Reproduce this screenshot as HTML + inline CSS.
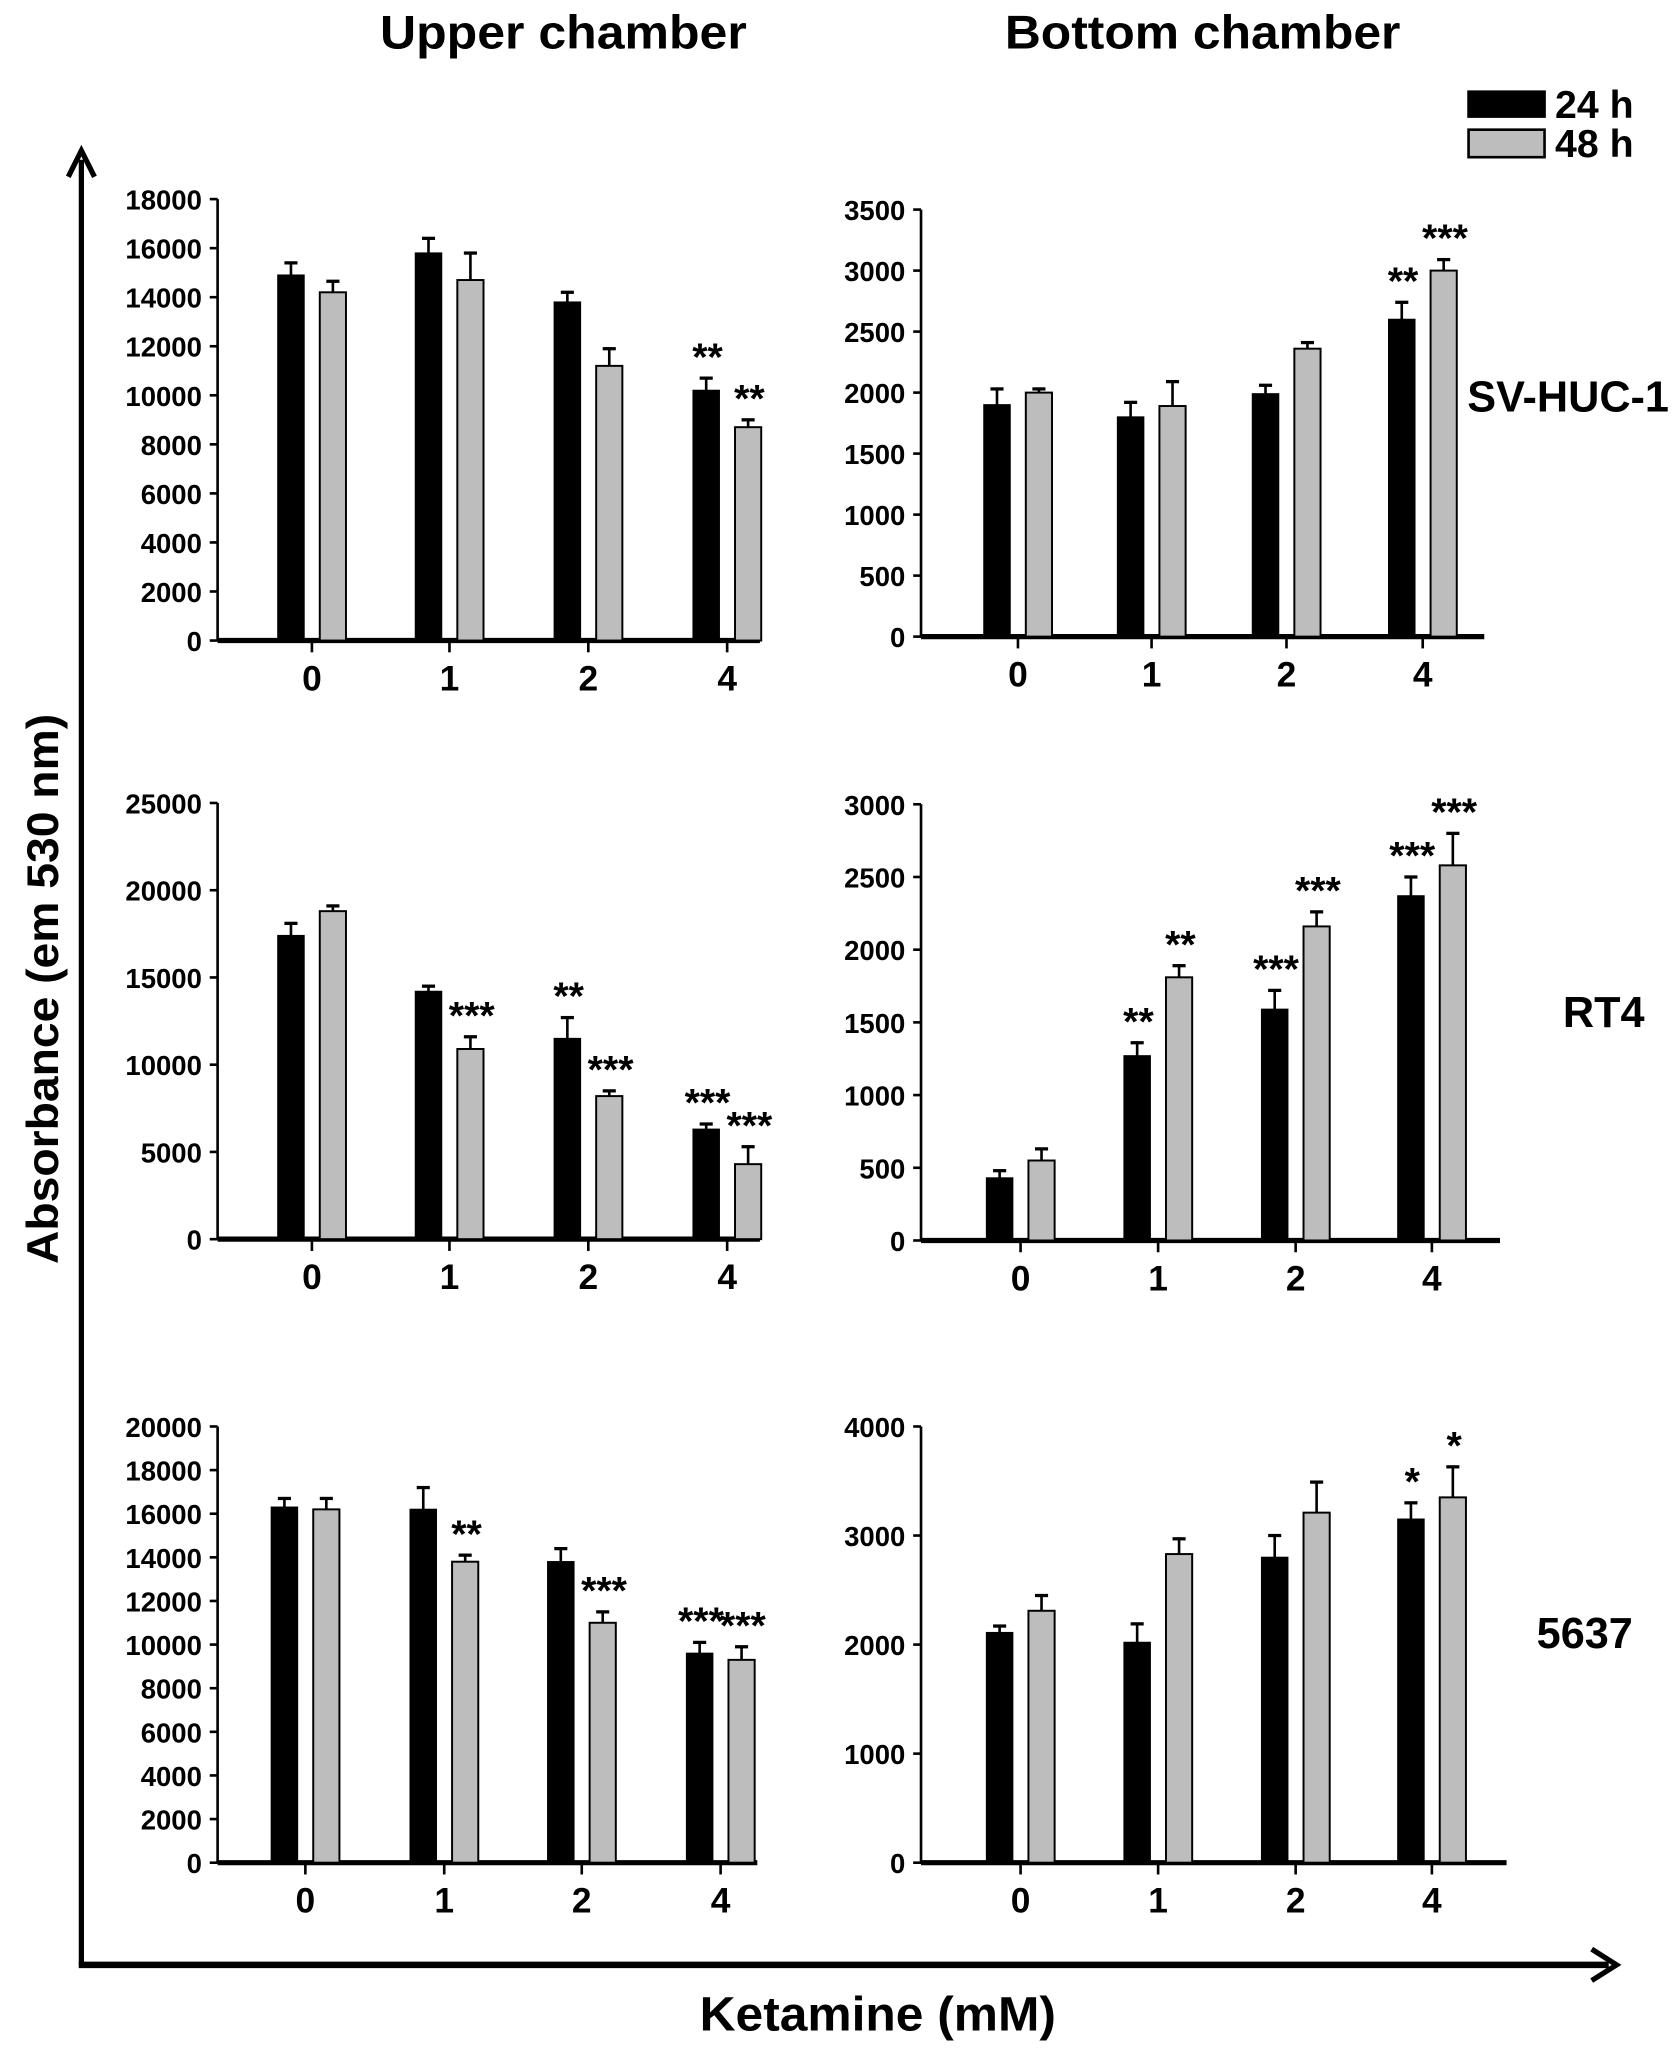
<!DOCTYPE html>
<html><head><meta charset="utf-8"><style>
html,body{margin:0;padding:0;background:#fff}
svg{display:block}
text{font-family:"Liberation Sans",Arial,sans-serif;font-weight:bold;fill:#000}
</style></head><body>
<svg id="fig" width="1677" height="2050" viewBox="0 0 1280 1565" xmlns="http://www.w3.org/2000/svg">
<text x="430" y="37" font-size="36" text-anchor="middle" textLength="280" lengthAdjust="spacingAndGlyphs">Upper chamber</text>
<text x="918" y="37" font-size="36" text-anchor="middle" textLength="302" lengthAdjust="spacingAndGlyphs">Bottom chamber</text>
<g>
<rect x="1120" y="69" width="60" height="21" fill="#000"/>
<text x="1187" y="90" font-size="30">24 h</text>
<rect x="1121" y="99" width="58" height="21" fill="#bdbdbd" stroke="#000" stroke-width="2"/>
<text x="1187" y="120" font-size="30">48 h</text>
</g>
<text x="1120" y="314" font-size="33">SV-HUC-1</text>
<text x="1193" y="784" font-size="33">RT4</text>
<text x="1173" y="1258" font-size="33">5637</text>
<g>
<line x1="62" y1="1500" x2="62" y2="122" stroke="#000" stroke-width="4"/>
<polyline points="52,135 62,115 72,135" fill="none" stroke="#000" stroke-width="4"/>
</g>
<g>
<line x1="60" y1="1500" x2="1228" y2="1500" stroke="#000" stroke-width="5"/>
<polyline points="1215,1488 1234,1500 1215,1512" fill="none" stroke="#000" stroke-width="4"/>
</g>
<text transform="translate(44,755) rotate(-90)" font-size="34" text-anchor="middle" textLength="420" lengthAdjust="spacingAndGlyphs">Absorbance (em 530 nm)</text>
<text x="670" y="1550" font-size="37" text-anchor="middle" textLength="272" lengthAdjust="spacingAndGlyphs">Ketamine (mM)</text>
<g id="panels"></g>
</svg>
<script>
const categories = ["0","1","2","4"];
// panel 1: SV-HUC-1 upper
const p1Black=[14900,15800,13800,10200], p1BlackErr=[500,600,400,500];
const p1Gray=[14200,14700,11200,8700], p1GrayErr=[450,1100,700,300];
const p1StarsB=["","","","**"], p1StarsG=["","","","**"];
const p1Ticks=[0,2000,4000,6000,8000,10000,12000,14000,16000,18000];
// panel 2: SV-HUC-1 bottom
const p2Black=[1900,1800,1990,2600], p2BlackErr=[130,120,70,140];
const p2Gray=[2000,1890,2360,3000], p2GrayErr=[30,200,50,90];
const p2StarsB=["","","","**"], p2StarsG=["","","","***"];
const p2Ticks=[0,500,1000,1500,2000,2500,3000,3500];
// panel 3: RT4 upper
const p3Black=[17400,14200,11500,6300], p3BlackErr=[700,300,1200,300];
const p3Gray=[18800,10900,8200,4300], p3GrayErr=[300,700,300,1000];
const p3StarsB=["","","**","***"], p3StarsG=["","***","***","***"];
const p3Ticks=[0,5000,10000,15000,20000,25000];
// panel 4: RT4 bottom
const p4Black=[430,1270,1590,2370], p4BlackErr=[50,90,130,130];
const p4Gray=[550,1810,2160,2580], p4GrayErr=[80,80,100,220];
const p4StarsB=["","**","***","***"], p4StarsG=["","**","***","***"];
const p4Ticks=[0,500,1000,1500,2000,2500,3000];
// panel 5: 5637 upper
const p5Black=[16300,16200,13800,9600], p5BlackErr=[400,1000,600,500];
const p5Gray=[16200,13800,11000,9300], p5GrayErr=[500,300,500,600];
const p5StarsB=["","","","***"], p5StarsG=["","**","***","***"];
const p5Ticks=[0,2000,4000,6000,8000,10000,12000,14000,16000,18000,20000];
// panel 6: 5637 bottom
const p6Black=[2110,2020,2800,3150], p6BlackErr=[60,170,200,150];
const p6Gray=[2310,2830,3210,3350], p6GrayErr=[140,140,280,280];
const p6StarsB=["","","","*"], p6StarsG=["","","","*"];
const p6Ticks=[0,1000,2000,3000,4000];

const NS="http://www.w3.org/2000/svg";
const root=document.getElementById('panels');
function mk(tag,attrs,parent){const e=document.createElementNS(NS,tag);for(const k in attrs)e.setAttribute(k,attrs[k]);parent.appendChild(e);return e;}

function panel(id,cfg,black,bErr,gray,gErr,sB,sG,ticks){
  const g=mk('g',{},root);
  
  
  const max=ticks[ticks.length-1];
  const y=v=>cfg.y0-(v/max)*(cfg.y0-cfg.yTop);
  const x=i=>cfg.cx[i];
  mk('line',{x1:cfg.ax,y1:cfg.yTop,x2:cfg.ax,y2:cfg.y0,stroke:'#000','stroke-width':2},g);
  mk('line',{x1:cfg.ax,y1:cfg.y0,x2:cfg.xEnd,y2:cfg.y0,stroke:'#000','stroke-width':4},g);
  ticks.forEach(t=>{
    mk('line',{x1:cfg.ax-6,y1:y(t),x2:cfg.ax,y2:y(t),stroke:'#000','stroke-width':2},g);
    const tx=mk('text',{x:cfg.ax-12,y:y(t)+8,'font-size':21,'text-anchor':'end'},g);
    tx.textContent=t;
    
    
  });
  categories.forEach((c,i)=>{
    mk('line',{x1:x(i),y1:cfg.y0,x2:x(i),y2:cfg.y0+9,stroke:'#000','stroke-width':2},g);
    const tx=mk('text',{x:x(i),y:cfg.y0+38,'font-size':27,'text-anchor':'middle'},g);
    tx.textContent=c;
    
    
    const bw=20;
    [[black,bErr,sB,-16,'#000'],[gray,gErr,sG,16,'#bdbdbd']].forEach(([vals,errs,st,off,fill],k)=>{
      const cx=x(i)+off, top=y(vals[i]), et=y(vals[i]+errs[i]);
      mk('line',{x1:cx,y1:top,x2:cx,y2:et,stroke:'#000','stroke-width':2},g);
      mk('line',{x1:cx-5,y1:et,x2:cx+5,y2:et,stroke:'#000','stroke-width':2.5},g);
      const r=mk('rect',{x:cx-bw/2,y:top,width:bw,height:cfg.y0-top,fill:fill,stroke:'#000','stroke-width':k?1.5:1},g);
      
      
      if(st[i]){
        const s=mk('text',{x:cx+1,y:et-6,'font-size':30,'text-anchor':'middle','font-weight':'normal'},g);
        s.textContent=st[i];
        
        
      }
    });
  });
}
panel('panel-sv-huc-1-upper',{ax:166,yTop:152,y0:489,xEnd:580,cx:[238,343,449,555]},p1Black,p1BlackErr,p1Gray,p1GrayErr,p1StarsB,p1StarsG,p1Ticks);
panel('panel-sv-huc-1-bottom',{ax:703,yTop:160,y0:486,xEnd:1133,cx:[777,879,982,1086]},p2Black,p2BlackErr,p2Gray,p2GrayErr,p2StarsB,p2StarsG,p2Ticks);
panel('panel-rt4-upper',{ax:166,yTop:613,y0:946,xEnd:580,cx:[238,343,449,555]},p3Black,p3BlackErr,p3Gray,p3GrayErr,p3StarsB,p3StarsG,p3Ticks);
panel('panel-rt4-bottom',{ax:703,yTop:614,y0:947,xEnd:1145,cx:[779,884,989,1093]},p4Black,p4BlackErr,p4Gray,p4GrayErr,p4StarsB,p4StarsG,p4Ticks);
panel('panel-5637-upper',{ax:166,yTop:1089,y0:1422,xEnd:578,cx:[233,339,444,550]},p5Black,p5BlackErr,p5Gray,p5GrayErr,p5StarsB,p5StarsG,p5Ticks);
panel('panel-5637-bottom',{ax:703,yTop:1089,y0:1422,xEnd:1150,cx:[779,884,989,1093]},p6Black,p6BlackErr,p6Gray,p6GrayErr,p6StarsB,p6StarsG,p6Ticks);
</script>
</body></html>
